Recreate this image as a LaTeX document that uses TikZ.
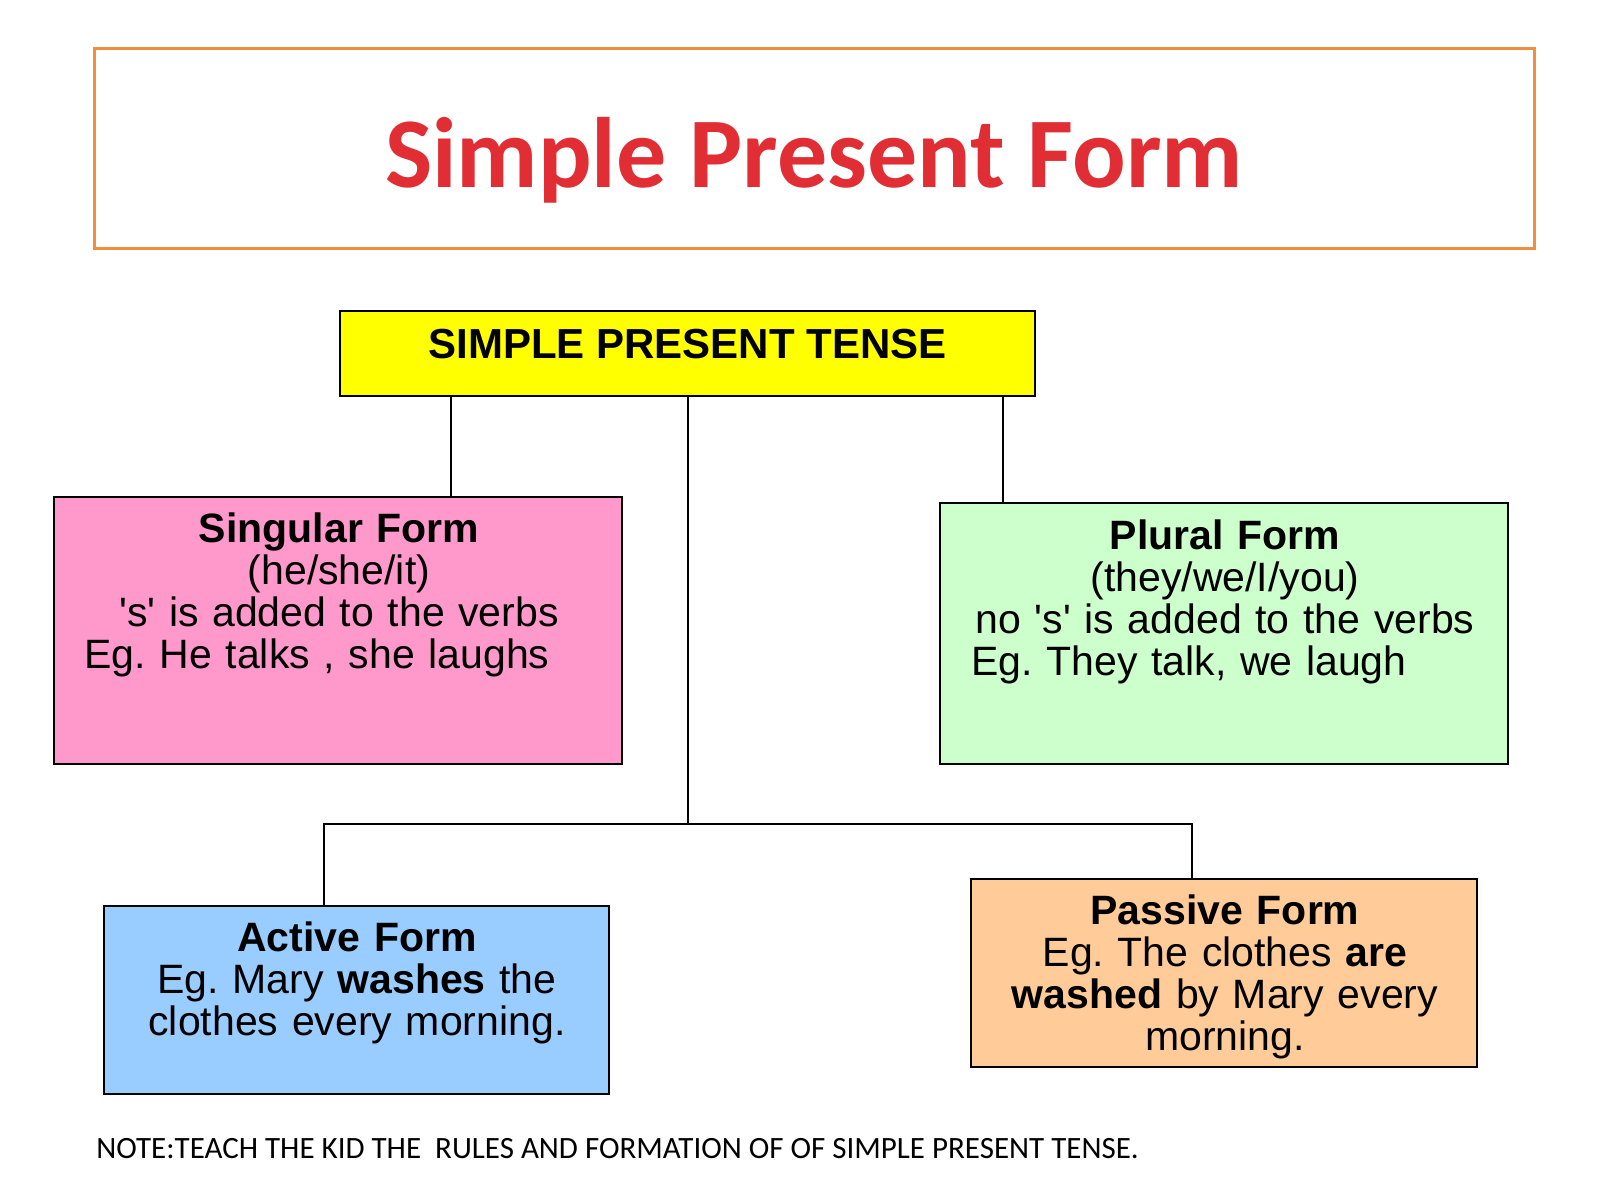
\documentclass[tikz,border=0pt]{standalone}
\usepackage{fontspec}
\setmainfont{Liberation Sans}
\newfontfamily\calibri{Carlito}
\frenchspacing
\definecolor{titlered}{RGB}{224,46,52}
\definecolor{titleorange}{RGB}{242,142,62}
\definecolor{pinkfill}{RGB}{255,153,204}
\definecolor{greenfill}{RGB}{204,255,204}
\definecolor{bluefill}{RGB}{153,204,255}
\definecolor{orangefill}{RGB}{255,204,153}
\definecolor{yellowfill}{RGB}{255,255,0}
\tikzset{
  boxbase/.style={draw=black, line width=1.2pt, inner sep=0pt, rectangle},
  boxtext/.style={inner sep=0pt, align=center, anchor=base,
    font=\fontsize{20.5pt}{21pt}\selectfont},
  conn/.style={draw=black, line width=1pt},
}
\begin{document}
\begin{tikzpicture}[x=0.5pt, y=-0.5pt]
\useasboundingbox[fill=white] (0,0) rectangle (1600,1200);

% title
\node[draw=titleorange, line width=1.5pt, inner sep=0pt, minimum width=720pt,
      text height=69.5pt, text depth=30.5pt,
      font=\calibri\bfseries\fontsize{50pt}{60pt}\selectfont, text=titlered]
  (title) at (814,148) {Simple Present Form};

% root
\node[boxbase, fill=yellowfill, minimum width=347.5pt, text height=23.5pt, text depth=19pt,
      font=\bfseries\fontsize{21pt}{24pt}\selectfont]
  (spt) at (687.5,353.5) {SIMPLE PRESENT TENSE};

% boxes
\node[boxbase, fill=pinkfill, minimum width=284pt, minimum height=133.5pt] (sing) at (338,630.5) {};
\node[boxbase, fill=greenfill, minimum width=284pt, minimum height=130.5pt] (plur) at (1224,633.5) {};
\node[boxbase, fill=bluefill, minimum width=252.5pt, minimum height=94pt] (act) at (356.5,1000) {};
\node[boxbase, fill=orangefill, minimum width=253pt, minimum height=94pt] (pas) at (1224,973) {};

% box texts
\node[boxtext, text width=275pt] (singt) at (339,542)
  {\textbf{Singular Form}\\(he/she/it)\\\textquotesingle s\textquotesingle{} is added to the verbs\\Eg. He talks , she laughs\hspace*{22pt}\mbox{}};
\node[boxtext, text width=275pt] (plurt) at (1225,549)
  {\textbf{Plural Form}\\(they/we/I/you)\\no \textquotesingle s\textquotesingle{} is added to the verbs\\Eg. They talk, we laugh\hspace*{36pt}\mbox{}};
\node[boxtext, text width=250pt] (actt) at (357,951)
  {\textbf{Active Form}\\Eg. Mary \textbf{washes} the\\clothes every morning.};
\node[boxtext, text width=250pt] (past) at (1225,924)
  {\textbf{Passive Form}\\Eg. The clothes \textbf{are}\\\textbf{washed} by Mary every\\morning.};

% connectors
\coordinate (xl) at (451,0);
\coordinate (xr) at (1003,0);
\coordinate (jm) at (688,824);
\coordinate (jl) at (324,824);
\coordinate (jr) at (1192,824);
\draw[conn] (spt.south -| xl) -- (sing.north -| xl);
\draw[conn] (spt.south -| xr) -- (plur.north -| xr);
\draw[conn] (spt.south -| jm) -- (jm);
\draw[conn] (act.north -| jl) -- (jl) -- (jr) -- (pas.north -| jr);

% note
\node[anchor=base west, inner sep=0pt, font=\calibri\fontsize{15.5pt}{18pt}\selectfont]
  (note) at (96,1158) {NOTE:TEACH THE KID THE\ \ RULES AND FORMATION OF OF SIMPLE PRESENT TENSE.};
\end{tikzpicture}
\end{document}
